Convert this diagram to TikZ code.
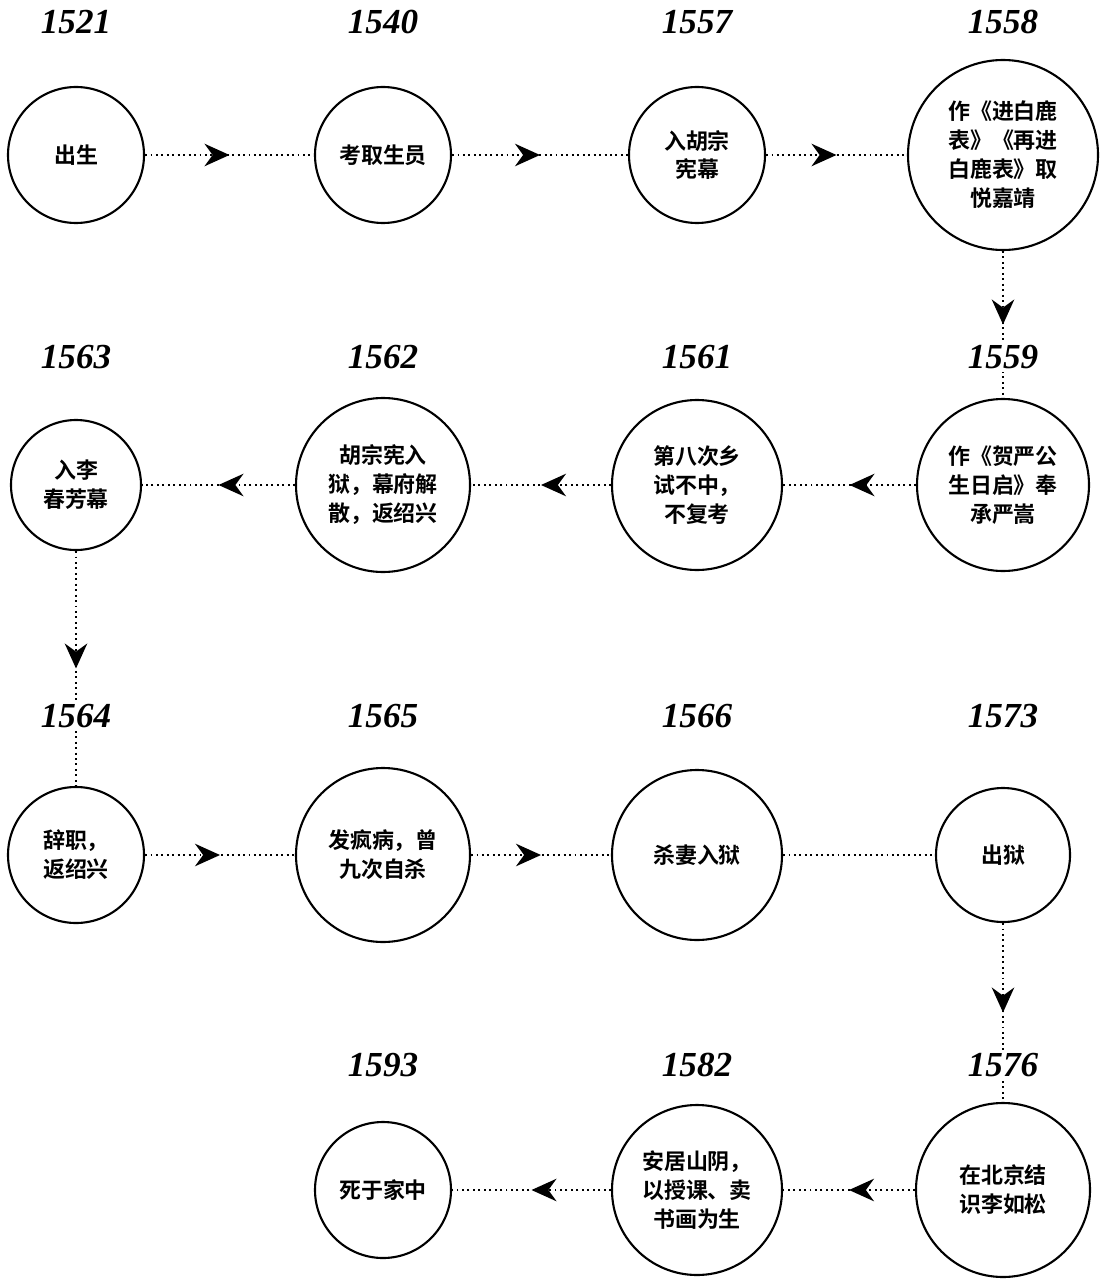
\documentclass[tikz,border=0pt]{standalone}
\usepackage{fontspec}
\setmainfont{Liberation Serif}
\newfontfamily\cjk{Noto Sans CJK SC}[BoldFont={* Bold}]
\usetikzlibrary{arrows.meta,decorations.markings}
\begin{document}
\begin{tikzpicture}[x=0.02cm,y=-0.02cm,
event/.style={circle,draw,line width=1.2pt,align=center,font=\cjk\bfseries\fontsize{12.5}{16.5}\selectfont,inner sep=0pt,minimum size=#1*0.02cm},
year/.style={fill=white,inner sep=2pt,font=\bfseries\itshape\fontsize{20}{20}\selectfont},
link/.style={dotted,line width=1.1pt,postaction={decorate},decoration={markings,mark=at position 0.5 with {\arrow{Stealth[length=0.5cm,width=0.45cm]}}}},
plain/.style={dotted,line width=1.1pt}
]
\useasboundingbox (0,0) rectangle (1104,1280);
% row 1
\node[event=136] (e1) at (76,155) {出生};
\node[event=136] (e2) at (383,155) {考取生员};
\node[event=136] (e3) at (697,155) {入胡宗\\宪幕};
\node[event=190] (e4) at (1003,155) {作《进白鹿\\表》《再进\\白鹿表》取\\悦嘉靖};
% row 2
\node[event=172] (e5) at (1003,485) {作《贺严公\\生日启》奉\\承严嵩};
\node[event=170] (e6) at (697,485) {第八次乡\\试不中，\\不复考};
\node[event=174] (e7) at (383,485) {胡宗宪入\\狱，幕府解\\散，返绍兴};
\node[event=130] (e8) at (76,485) {入李\\春芳幕};
% row 3
\node[event=136] (e9) at (76,855) {辞职，\\返绍兴};
\node[event=174] (e10) at (383,855) {发疯病，曾\\九次自杀};
\node[event=170] (e11) at (697,855) {杀妻入狱};
\node[event=134] (e12) at (1003,855) {出狱};
% row 4
\node[event=174] (e13) at (1003,1190) {在北京结\\识李如松};
\node[event=170] (e14) at (697,1190) {安居山阴，\\以授课、卖\\书画为生};
\node[event=136] (e15) at (383,1190) {死于家中};
% connectors
\draw[link] (e1) -- (e2);
\draw[link] (e2) -- (e3);
\draw[link] (e3) -- (e4);
\draw[link] (e4) -- (e5);
\draw[link] (e5) -- (e6);
\draw[link] (e6) -- (e7);
\draw[link] (e7) -- (e8);
\draw[link] (e8) -- (e9);
\draw[link] (e9) -- (e10);
\draw[link] (e10) -- (e11);
\draw[plain] (e11) -- (e12);
\draw[link] (e12) -- (e13);
\draw[link] (e13) -- (e14);
\draw[link] (e14) -- (e15);
% years
\node[year] (y1) at (76,22) {1521};
\node[year] (y2) at (383,22) {1540};
\node[year] (y3) at (697,22) {1557};
\node[year] (y4) at (1003,22) {1558};
\node[year] (y5) at (1003,357) {1559};
\node[year] (y6) at (697,357) {1561};
\node[year] (y7) at (383,357) {1562};
\node[year] (y8) at (76,357) {1563};
\node[year] (y9) at (76,716) {1564};
\node[year] (y10) at (383,716) {1565};
\node[year] (y11) at (697,716) {1566};
\node[year] (y12) at (1003,716) {1573};
\node[year] (y13) at (1003,1065) {1576};
\node[year] (y14) at (697,1065) {1582};
\node[year] (y15) at (383,1065) {1593};
\end{tikzpicture}
\end{document}
